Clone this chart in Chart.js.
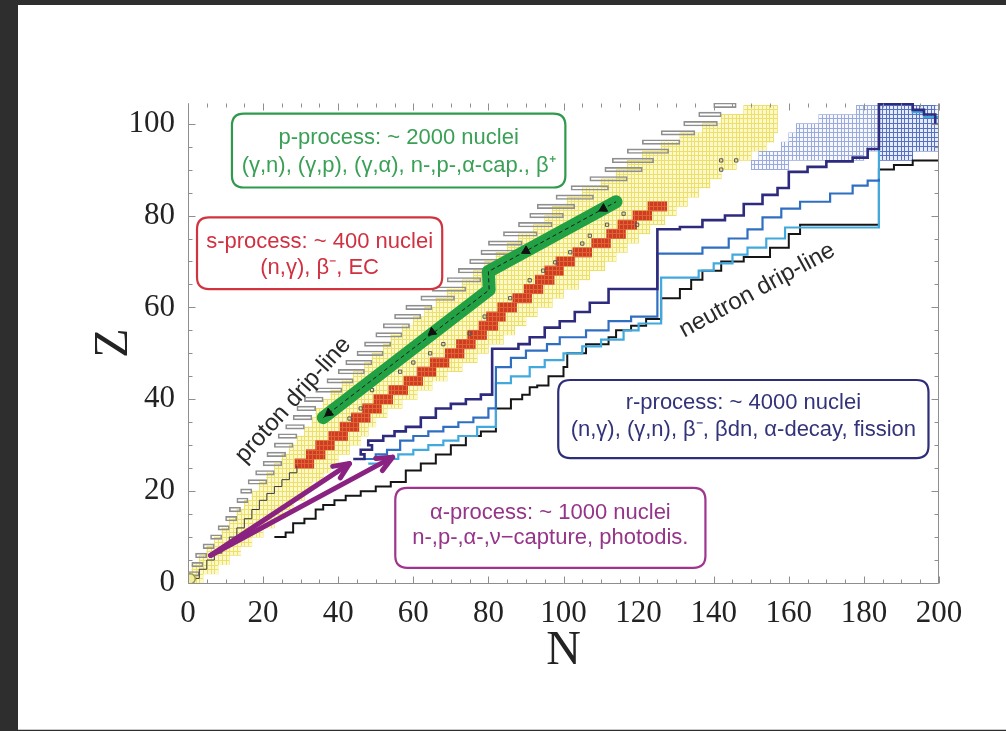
<!DOCTYPE html>
<html><head><meta charset="utf-8">
<script src="https://cdn.jsdelivr.net/npm/chart.js@4.4.1/dist/chart.umd.min.js"></script>
<style>
html,body{margin:0;padding:0;background:#2e2e2e;width:1006px;height:731px;overflow:hidden}
#wrap{position:absolute;left:18px;top:5px;width:988px;height:724px;background:#fff;border-bottom:1px solid #c9c9c9}
canvas{display:block}
</style></head><body><div id="wrap"><canvas id="c" width="988" height="724"></canvas></div>
<script>
// ===== tick labels =====
const xTickValues = [0,20,40,60,80,100,120,140,160,180,200];
const yTickValues = [0,20,40,60,80,100];

// ===== valley of known nuclei (yellow rows: Z, N from..to) =====
const yellowZ = [1,3,5,7,9,11,13,15,17,19,21,23,25,27,29,31,33,35,37,39,41,43,45,47,49,51,53,55,57,59,61,63,65,67,69,71,73,75,77,79,81,83,85,87,89,91,93,95,97,99,101,103];
const yellowNmin = [0,1,3,5,7,9,11,13,15,17,19,21,23,25,27,29,31,33,34,36,38,41,44,47,49,52,54,57,60,63,66,69,73,76,79,82,85,88,92,95,97,101,105,110,114,117,121,126,131,137,142,148];
const yellowNmax = [4,8,11,14,17,20,23,26,28,31,33,36,38,40,43,46,48,50,53,57,61,65,69,73,77,80,84,87,90,93,97,100,104,107,111,114,117,120,123,127,130,133,136,139,142,146,150,154,156,157,157,157];

// ===== proton drip-line (grey cells) =====
const grayZ = [2,4,6,8,10,12,14,16,18,20,22,24,26,28,30,32,34,36,38,40,42,44,46,48,50,52,54,56,58,60,62,64,66,68,70,72,74,76,78,80,82,84,86,88,90,92,94,96,98,100,102,104];
const grayNmin = [0,1,2,4,6,8,10,11,13,14,16,18,20,21,23,24,26,28,29,31,34,37,40,42,45,47,50,52,55,58,62,65,69,72,75,78,80,84,88,91,93,98,102,107,111,113,117,121,126,132,136,140];
const grayNmax = [3,4,5,7,9,11,13,14,16,17,21,23,25,26,28,29,31,33,34,36,41,44,47,49,52,54,57,59,62,65,71,74,78,81,84,87,89,93,97,100,103,108,112,117,121,124,128,131,135,141,142,146];

// ===== s-process path (red cells) =====
const redZ = [26,28,30,32,34,36,38,40,42,44,46,48,50,52,54,56,58,60,62,64,66,68,70,72,74,76,78,80,82];
const redNmin = [28.5,31.5,34,37.5,40.5,43.5,46.5,49.5,53.5,57.5,61,64.5,68.5,71.5,74.5,77.5,79.5,82.5,86.5,89.5,92.5,95,98,102.5,107.5,111.5,114.5,118.5,122.5];
const redNmax = [33.5,36.5,39,42.5,45.5,48.5,51.5,54.5,58.5,62.5,66,69.5,73.5,76.5,79.5,82.5,84.5,87.5,91.5,94.5,97.5,100,103,107.5,112.5,116.5,119.5,123.5,127.5];

// ===== heavy region (blue cells) =====
const blueLightZ = [91,93,95,97,99,101,103];
const blueLightNmin = [150,152,158,160,162,168,178];
const blueLightNmax = [160,180,186,200,200,200,200];
const blueDenseZ = [93,95,97,99,101,103];
const blueDenseNmin = [184,184,184,184,184,184];
const blueDenseNmax = [193,200,200,200,200,199];

// ===== r-process paths =====
const navyN = [44,47,46,49,48,52,55,58,62,66,70,74,78,81,81,85,88,91,95,99,103,107,112,125,125,131,137,143,148,153,157,160,165,170,177,181,184,184,190,193,196,199];
const navyZ = [27,28,29,30,31,32,33,34,36,38,39,40,41,42,51,51,52,53.5,55.6,57,59,61,64,64,77,77.5,79,80,82.5,84.5,86,89.5,90.6,91.8,92.6,94.5,95.5,104.3,104.3,103,102,100];
const blueN = [47,50,53,56.5,60,64,68,72,76,80,82,82,86,90,95.6,99,106,112,118,125,125,131,137,144,149,153,158,163,171,177,181,184];
const blueZ = [27,28,29,31,32,33,34,35,36,38,39,47,49,50.6,52,53.5,55,57,58,58,71.7,71.7,73,75,77,79.6,81.5,83,84.8,86.5,87.6,88];
const lblueN = [48,52,56,60,64,68,72,77,82,82,86,91,95,100,105,110,116,120,126,126,131,136,140,145,149,154,159,184,184,189,193,196,200];
const lblueZ = [26,27,28,29,30,31,32,34,35,43.5,45,47,48.5,50,51.5,53,55,56.5,57.5,66.5,66.5,68,69.6,71.5,73,75,77.4,77.4,104.3,104.3,102.5,101.5,99.5];
// neutron drip-line
const dripN = [23,26,28,31,34,36,39,42,46,50,54,58,62,66,70,74,78,82,82,86,89,91,93,96,100,101,106,112,114,118,122,126,126,131,134,137,142,148,155,160,163,184,184,188,193,200];
const dripZ = [10,11,13,14,16,17,18,19,20,21,22,24.5,26,28,30,32,33,34,38,40,41,42.6,43,45,47,50,52,53.5,55,56,57.5,59,62,64,66,68,70,71,73,76,78,78,90,91,92,93.5];

// ===== rp steps inside the valley (lower part) =====
const rpN = [1,3,5,7,9,11,13,15,17,19,21,23,25,27,29];
const rpZ = [1,3,5,6.5,8,10,12,14,16,18,19.5,21,22.5,24,25.5];

// ===== p-nuclei markers (small open squares) =====
const pNucN = [116,111.6,119.6,107,105,101.8,97.8,94.6,91,85.8,79,75,68,64.5,60,56.5,49,46,43,142,146,142];
const pNucZ = [80.4,78,78,75.6,73.9,72,69.8,68,65.9,62,58,54.3,52,50,48,46,42,38,35.8,92,92,90];

// ===== p-process path (green) and its direction marks =====
const pPathN = [36,80.2,80,114];
const pPathZ = [36,63.8,67.8,83];
const pMarkN = [37.5,65,90,110.6];
const pMarkZ = [37,54.6,72.3,81.5];

// ===== alpha-process arrows =====
const alpha1N = [6,43];
const alpha1Z = [6,26];
const alpha2N = [6,54.5];
const alpha2Z = [6,27.4];

// ===== hydrogen =====
const hN = [0.6];
const hZ = [0.9];

// ---------- helpers ----------
const pt = (ns, zs) => ns.map((n, i) => ({x: n, y: zs[i]}));
const rows = (zs, a, b) => zs.map((z, i) => ({y: z, x: [a[i], b[i]]}));

function makePattern(w, h, nx, ny, fill, line, ox, oy) {
  const c = document.createElement('canvas'); c.width = w; c.height = h;
  const g = c.getContext('2d');
  g.fillStyle = fill; g.fillRect(0, 0, w, h);
  g.strokeStyle = line; g.lineWidth = 1; g.beginPath();
  for (let i = 0; i < nx; i++) { const p = Math.round(i * w / nx) + 0.5; g.moveTo(p, 0); g.lineTo(p, h); }
  for (let j = 0; j < ny; j++) { const p = Math.round(j * h / ny) + 0.5; g.moveTo(0, p); g.lineTo(w, p); }
  g.stroke();
  const pat = g.createPattern(c, 'repeat');
  if (pat.setTransform) pat.setTransform(new DOMMatrix([1, 0, 0, 1, ox, oy]));
  return pat;
}
const yellowPat = makePattern(15, 23, 4, 5, '#fdf8c8', '#ece06c', 170, 578);
const redPat = makePattern(15, 23, 4, 5, '#d03c22', '#dd6334', 170, 578);
const bluePat = makePattern(15, 23, 4, 5, '#f6f8fd', '#98abdc', 170, 578);
const blueDensePat = makePattern(15, 23, 4, 5, '#e6ebf8', '#5670c4', 170, 578);

const barBase = {type: 'bar', indexAxis: 'y', grouped: false, borderSkipped: false};

// ---------- plugins ----------
const framePlugin = {
  id: 'frame',
  afterDatasetsDraw(chart) {
    const {ctx, chartArea: a, scales: {x, y}} = chart;
    const L = Math.round(a.left) + 0.5, R = Math.round(a.right) - 0.5, T = Math.round(a.top) + 0.5, B = Math.round(a.bottom) + 0.5;
    ctx.save();
    ctx.strokeStyle = '#8e8e8e'; ctx.lineWidth = 1; ctx.beginPath();
    ctx.moveTo(L, T); ctx.lineTo(L, B); ctx.lineTo(R, B); ctx.lineTo(R, T);
    for (let v = 0; v <= 200; v += 5) {
      const p = Math.round(x.getPixelForValue(v)) + 0.5, len = v % 20 ? 4 : 7;
      ctx.moveTo(p, B); ctx.lineTo(p, B - len); ctx.moveTo(p, T); ctx.lineTo(p, T + len);
    }
    for (let v = 0; v <= 104; v += 5) {
      const p = Math.round(y.getPixelForValue(v)) + 0.5, len = v % 20 ? 4 : 7;
      ctx.moveTo(L, p); ctx.lineTo(L + len, p); ctx.moveTo(R, p); ctx.lineTo(R - len, p);
    }
    ctx.stroke(); ctx.restore();
  }
};

const annotPlugin = {
  id: 'annot',
  afterDatasetsDraw(chart, args, opts) {
    const {ctx, scales: {x, y}} = chart;
    // open arrow heads
    chart.data.datasets.forEach((ds, i) => {
      if (!ds.arrowHead) return;
      const pts = chart.getDatasetMeta(i).data;
      const a = pts[pts.length - 2], b = pts[pts.length - 1];
      const ang = Math.atan2(b.y - a.y, b.x - a.x), L = 17, w = 0.42;
      ctx.save(); ctx.strokeStyle = ds.borderColor; ctx.lineWidth = ds.borderWidth;
      ctx.lineCap = 'round'; ctx.lineJoin = 'round'; ctx.beginPath();
      ctx.moveTo(b.x - L * Math.cos(ang - w), b.y - L * Math.sin(ang - w));
      ctx.lineTo(b.x, b.y);
      ctx.lineTo(b.x - L * Math.cos(ang + w), b.y - L * Math.sin(ang + w));
      ctx.stroke(); ctx.restore();
    });
    // text boxes
    opts.boxes.forEach(bx => {
      const x0 = x.getPixelForValue(bx.n0), x1 = x.getPixelForValue(bx.n1);
      const y0 = y.getPixelForValue(bx.z1), y1 = y.getPixelForValue(bx.z0);
      const r = 12;
      ctx.save();
      ctx.beginPath();
      ctx.moveTo(x0 + r, y0); ctx.lineTo(x1 - r, y0); ctx.quadraticCurveTo(x1, y0, x1, y0 + r);
      ctx.lineTo(x1, y1 - r); ctx.quadraticCurveTo(x1, y1, x1 - r, y1);
      ctx.lineTo(x0 + r, y1); ctx.quadraticCurveTo(x0, y1, x0, y1 - r);
      ctx.lineTo(x0, y0 + r); ctx.quadraticCurveTo(x0, y0, x0 + r, y0); ctx.closePath();
      ctx.fillStyle = '#ffffff'; ctx.fill();
      ctx.strokeStyle = bx.color; ctx.lineWidth = 2.2; ctx.stroke();
      ctx.fillStyle = bx.textColor; ctx.font = '22px "Liberation Sans", Arial, sans-serif';
      ctx.textAlign = 'center'; ctx.textBaseline = 'middle';
      bx.lines.forEach((t, k) => ctx.fillText(t, (x0 + x1) / 2, y.getPixelForValue(bx.lineZ[k])));
      ctx.restore();
    });
    // rotated labels
    opts.labels.forEach(lb => {
      ctx.save();
      ctx.translate(x.getPixelForValue(lb.n), y.getPixelForValue(lb.z));
      ctx.rotate(lb.angle * Math.PI / 180);
      ctx.fillStyle = '#2a2a2a'; ctx.font = '24px "Liberation Sans", Arial, sans-serif';
      ctx.textAlign = 'center'; ctx.textBaseline = 'middle';
      ctx.fillText(lb.text, 0, 0);
      ctx.restore();
    });
  }
};

// ---------- chart ----------
new Chart(document.getElementById('c'), {
  type: 'scatter',
  data: {
    datasets: [
      {type: 'line', label: 'α-process 1', data: pt(alpha1N, alpha1Z), borderColor: '#8a2282', borderWidth: 5, borderCapStyle: 'round', pointRadius: 0, arrowHead: true, order: 1},
      {type: 'line', label: 'α-process 2', data: pt(alpha2N, alpha2Z), borderColor: '#8a2282', borderWidth: 5, borderCapStyle: 'round', pointRadius: 0, arrowHead: true, order: 1},
      {type: 'scatter', label: 'p-process direction', data: pt(pMarkN, pMarkZ), pointStyle: 'triangle', pointRadius: 5, pointRotation: [232, 232, 241.6, 241.6], backgroundColor: '#111', borderColor: '#111', borderWidth: 1, order: 2},
      {type: 'line', label: 'p-process flow', data: pt(pPathN, pPathZ), borderColor: '#1b1b1b', borderWidth: 1, borderDash: [4, 3], pointRadius: 0, order: 3},
      {type: 'line', label: 'p-process', data: pt(pPathN, pPathZ), borderColor: '#22a044', borderWidth: 13, borderCapStyle: 'round', borderJoinStyle: 'round', pointRadius: 0, order: 4},
      {type: 'scatter', label: 'H', data: pt(hN, hZ), pointStyle: 'circle', pointRadius: 5, backgroundColor: '#f3ec9a', borderColor: '#9a9a4a', borderWidth: 1.5, order: 3},
      {type: 'line', label: 'r-process (navy)', data: pt(navyN, navyZ), stepped: 'before', borderColor: '#2e2a7e', borderWidth: 2.6, pointRadius: 0, order: 5},
      {type: 'line', label: 'r-process (blue)', data: pt(blueN, blueZ), stepped: 'before', borderColor: '#2f6fc2', borderWidth: 2.2, pointRadius: 0, order: 6},
      {type: 'line', label: 'r-process (light blue)', data: pt(lblueN, lblueZ), stepped: 'before', borderColor: '#41a9de', borderWidth: 2.2, pointRadius: 0, order: 7},
      {type: 'line', label: 'neutron drip-line', data: pt(dripN, dripZ), stepped: 'before', borderColor: '#151515', borderWidth: 2, pointRadius: 0, order: 8},
      {type: 'scatter', label: 'p-nuclei', data: pt(pNucN, pNucZ), pointStyle: 'rect', pointRadius: 2.3, backgroundColor: 'rgba(0,0,0,0)', borderColor: '#555', borderWidth: 1, order: 9},
      {type: 'line', label: 'rp steps', data: pt(rpN, rpZ), stepped: 'before', borderColor: '#3a3a3a', borderWidth: 1, pointRadius: 0, order: 10},
      Object.assign({}, barBase, {label: 's-process', data: rows(redZ, redNmin, redNmax), barThickness: 9.4, backgroundColor: redPat, borderWidth: 0, order: 11}),
      Object.assign({}, barBase, {label: 'proton drip-line', data: rows(grayZ, grayNmin, grayNmax), barThickness: 4.6, backgroundColor: 'rgba(0,0,0,0)', borderColor: '#8f8f8f', borderWidth: 1, order: 12}),
      Object.assign({}, barBase, {label: 'heavy (dense)', data: rows(blueDenseZ, blueDenseNmin, blueDenseNmax), barThickness: 9.2, backgroundColor: blueDensePat, borderWidth: 0, order: 13}),
      Object.assign({}, barBase, {label: 'heavy', data: rows(blueLightZ, blueLightNmin, blueLightNmax), barThickness: 9.2, backgroundColor: bluePat, borderWidth: 0, order: 14}),
      Object.assign({}, barBase, {label: 'known nuclei', data: rows(yellowZ, yellowNmin, yellowNmax), barThickness: 9.3, backgroundColor: yellowPat, borderWidth: 0, order: 15})
    ]
  },
  options: {
    responsive: false, animation: false, devicePixelRatio: 1, events: [],
    layout: {padding: {left: 0, right: 67, top: 98, bottom: 0}},
    plugins: {
      legend: {display: false}, tooltip: {enabled: false},
      annot: {
        boxes: [
          {n0: 11.7, n1: 100.5, z0: 86.1, z1: 102.2, color: '#2f9a4b', textColor: '#39a055', lines: ['p-process: ~ 2000 nuclei', '(γ,n), (γ,p), (γ,α), n-,p-,α-cap., β⁺'], lineZ: [96.9, 90.9]},
          {n0: 2.4, n1: 67.7, z0: 64.0, z1: 79.6, color: '#d2343f', textColor: '#d03040', lines: ['s-process: ~ 400 nuclei', '(n,γ), β⁻, EC'], lineZ: [74.2, 68.6]},
          {n0: 98.6, n1: 197.2, z0: 27.2, z1: 44.2, color: '#2e2e78', textColor: '#33337a', lines: ['r-process: ~ 4000 nuclei', '(n,γ), (γ,n), β⁻, βdn, α-decay, fission'], lineZ: [39.2, 33.3]},
          {n0: 55.2, n1: 137.8, z0: 3.3, z1: 20.7, color: '#a0358e', textColor: '#953488', lines: ['α-process: ~ 1000 nuclei', 'n-,p-,α-,ν−capture, photodis.'], lineZ: [15.2, 9.8]}
        ],
        labels: [
          {text: 'proton drip-line', n: 28.0, z: 39.8, angle: -48},
          {text: 'neutron drip-line', n: 151.6, z: 63.7, angle: -28.6}
        ]
      }
    },
    scales: {
      x: {
        type: 'linear', min: 0, max: 200, offset: false,
        afterBuildTicks: s => { s.ticks = xTickValues.map(v => ({value: v})); },
        afterFit: s => { s.height = 146; },
        grid: {display: false, drawTicks: false, offset: false}, border: {display: false},
        ticks: {font: {family: 'Liberation Serif', size: 31}, color: '#232323', padding: 12, maxRotation: 0, autoSkip: false},
        title: {display: true, text: 'N', font: {family: 'Liberation Serif', size: 48}, color: '#232323', padding: {top: 0, bottom: 49}}
      },
      y: {
        type: 'linear', min: 0, max: 104.5, offset: false,
        afterBuildTicks: s => { s.ticks = yTickValues.map(v => ({value: v})); },
        afterFit: s => { s.width = 170; },
        grid: {display: false, drawTicks: false, offset: false}, border: {display: false},
        ticks: {font: {family: 'Liberation Serif', size: 31}, color: '#232323', padding: 13, autoSkip: false},
        title: {display: true, text: 'Z', font: {family: 'Liberation Serif', size: 48}, color: '#232323', padding: {top: 68, bottom: 0}}
      }
    }
  },
  plugins: [framePlugin, annotPlugin]
});
</script></body></html>
